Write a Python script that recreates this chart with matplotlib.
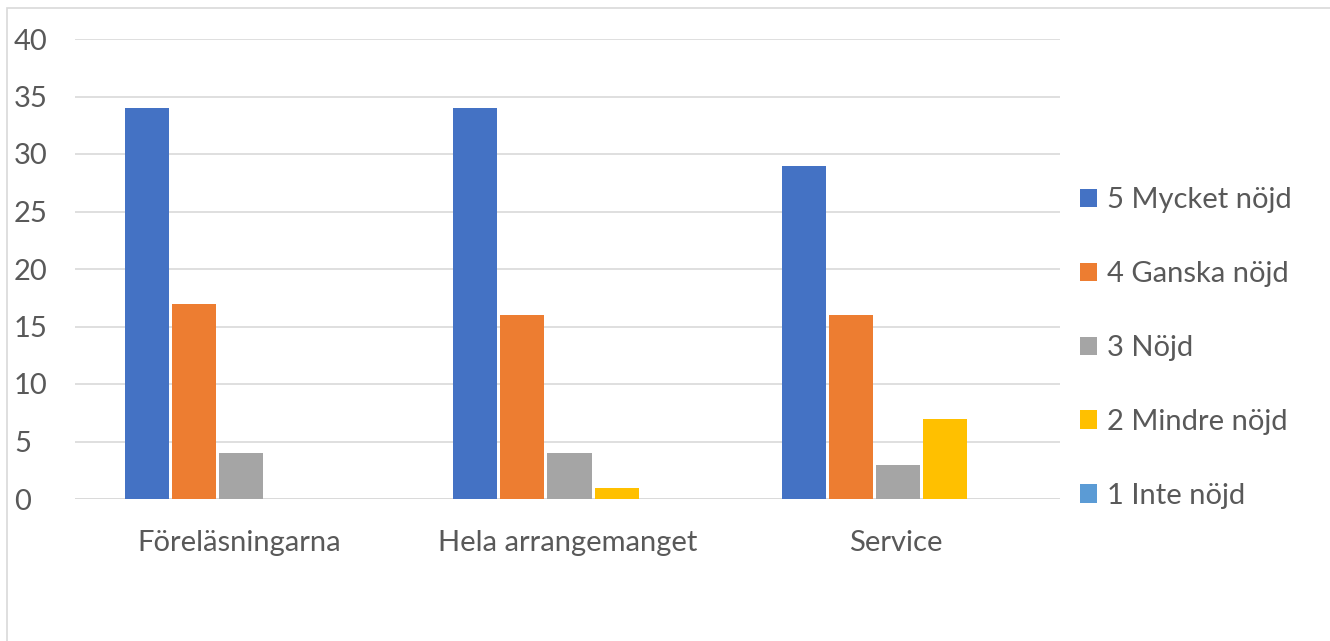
import matplotlib.pyplot as plt
import matplotlib.patches as mpatches
import numpy as np

categories = ['Föreläsningarna', 'Hela arrangemanget', 'Service']
series_names = ['5 Mycket nöjd', '4 Ganska nöjd', '3 Nöjd', '2 Mindre nöjd', '1 Inte nöjd']
mycket_nojd = [34, 34, 29]
ganska_nojd = [17, 16, 16]
nojd = [4, 4, 3]
mindre_nojd = [0, 1, 7]
inte_nojd = [0, 0, 0]
colors = ['#4472C4', '#ED7D31', '#A5A5A5', '#FFC000', '#5B9BD5']

plt.rcParams['font.family'] = ['Lato', 'DejaVu Sans']

W, H = 1330, 641
fig = plt.figure(figsize=(W / 100, H / 100), dpi=100)

# outer chart frame (runs past the right and bottom edges)
fig.patches.append(mpatches.Rectangle((7 / W, -1), 2, 2 - 8 / H, transform=fig.transFigure,
                                      fill=False, edgecolor='#d9d9d9', linewidth=1.2))

ax = fig.add_axes([75 / W, 1 - 499 / H, (1060 - 75) / W, (499 - 39) / H])

values = [mycket_nojd, ganska_nojd, nojd, mindre_nojd, inte_nojd]
x = np.arange(len(categories))
pitch = 47 / 328.3
width = 44 / 328.3
for i, (vals, name, c) in enumerate(zip(values, series_names, colors)):
    ax.bar(x + (i - 2) * pitch + 2 / 328.3, vals, width, color=c, label=name, zorder=3)

ax.set_xlim(-0.5, 2.5)
ax.set_ylim(0, 40)
ax.set_yticks(range(0, 41, 5))
ax.yaxis.grid(True, color='#d9d9d9', linewidth=1.2, zorder=0)
ax.set_xticks(x)
ax.set_xticklabels(categories)
for s in ax.spines.values():
    s.set_visible(False)
ax.axhline(0, color='#d9d9d9', linewidth=1.2, zorder=1)
ax.tick_params(axis='both', length=0, labelsize=21, colors='#595959')
ax.tick_params(axis='x', pad=22)
# y labels left aligned near the frame, pad is in points
ax.tick_params(axis='y', pad=(75 - 14) * 0.72)
for t in ax.get_yticklabels():
    t.set_horizontalalignment('left')

ax.legend(loc='center left', bbox_to_anchor=(1.02, 0.328), frameon=False,
          fontsize=21, labelcolor='#595959', handlelength=0.6, handleheight=0.6,
          handletextpad=0.35, labelspacing=1.64, borderaxespad=0, borderpad=0)

fig.savefig('out.png', dpi=100)
